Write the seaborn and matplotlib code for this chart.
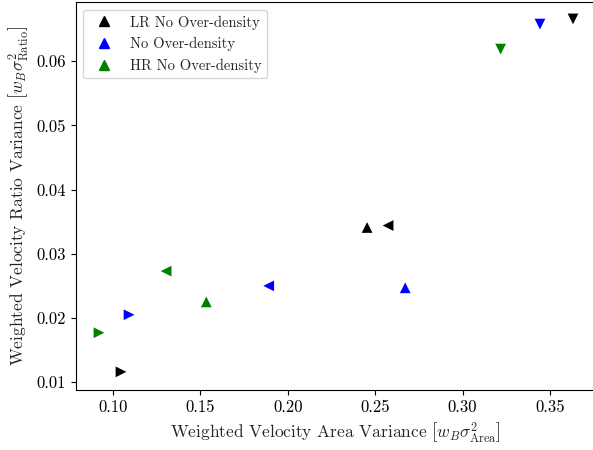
import pandas as pd
import matplotlib.pyplot as plt
import seaborn as sns
from matplotlib.lines import Line2D

# Values
runs = ["LR No Over-density", "No Over-density", "HR No Over-density"]
colors = ["black", "blue", "green"]
orients = ["^", "v", "<", ">"]

lr_x = [0.2454, 0.3632, 0.2574, 0.1046]
lr_y = [0.0341, 0.0666, 0.0344, 0.0116]
mid_x = [0.2672, 0.3443, 0.1891, 0.1092]
mid_y = [0.0247, 0.0658, 0.0250, 0.0205]
hr_x = [0.1534, 0.3218, 0.1304, 0.0920]
hr_y = [0.0225, 0.0619, 0.0273, 0.0177]

rows = []
for run, xs, ys in zip(runs, [lr_x, mid_x, hr_x], [lr_y, mid_y, hr_y]):
    for o, x, y in zip(orients, xs, ys):
        rows.append({"run": run, "orient": o, "x": x, "y": y})
df = pd.DataFrame(rows)

sns.set_style("ticks")
plt.rcParams["font.family"] = "serif"
plt.rcParams["font.serif"] = ["cmr10"]
plt.rcParams["mathtext.fontset"] = "cm"
plt.rcParams["axes.formatter.use_mathtext"] = True
plt.rcParams["font.size"] = 12
plt.rcParams["xtick.direction"] = "out"
plt.rcParams["ytick.direction"] = "out"

fig, ax = plt.subplots(figsize=(5.93, 4.5), dpi=100)
sns.scatterplot(data=df, x="x", y="y", hue="run", style="orient",
                palette=dict(zip(runs, colors)),
                markers={o: o for o in orients},
                s=60, linewidth=0, legend=False, ax=ax)

ax.set_xlim(0.0788, 0.376)
ax.set_ylim(0.00875, 0.0692)
ax.set_xticks([0.10, 0.15, 0.20, 0.25, 0.30, 0.35])
ax.set_yticks([0.01, 0.02, 0.03, 0.04, 0.05, 0.06])
ax.set_xticklabels(["0.10", "0.15", "0.20", "0.25", "0.30", "0.35"])
ax.set_yticklabels(["0.01", "0.02", "0.03", "0.04", "0.05", "0.06"])
ax.set_xlabel(r"Weighted Velocity Area Variance $\left[w_B\sigma^2_{\mathrm{Area}}\right]$", fontsize=12.5)
ax.set_ylabel(r"Weighted Velocity Ratio Variance $\left[w_B\sigma^2_{\mathrm{Ratio}}\right]$", fontsize=12.5)
for s in ax.spines.values():
    s.set_color("black")
ax.tick_params(colors="black", labelsize=12)

handles = [Line2D([], [], marker="^", color=c, linestyle="", markersize=7.5) for c in colors]
ax.legend(handles, runs, loc="upper left", frameon=True, fontsize=10.5)

fig.subplots_adjust(left=0.128, right=1.004, bottom=0.133, top=0.995)
plt.savefig("out.png")
